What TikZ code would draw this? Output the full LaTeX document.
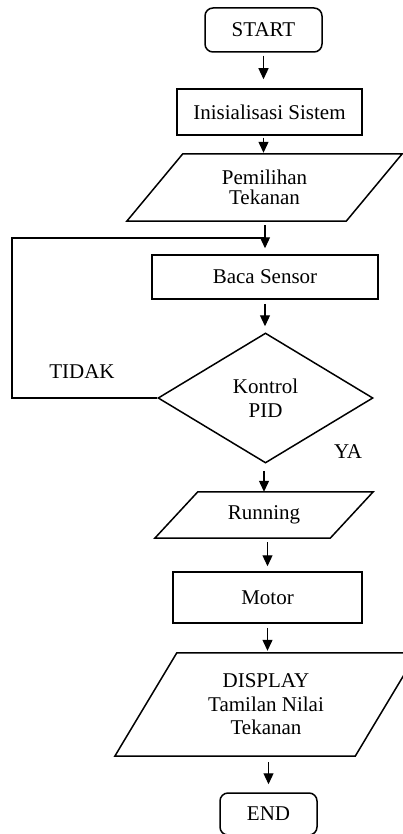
\documentclass[tikz,border=0pt]{standalone}
\usepackage{fontspec}
\setmainfont{Liberation Serif}
\usetikzlibrary{shapes.geometric,arrows.meta}
\begin{document}
\begin{tikzpicture}[x=1pt,y=-1pt,
  every node/.style={font=\fontsize{21}{23.5}\selectfont, align=center, inner sep=0pt},
  box/.style={draw, line width=1.5pt, rectangle},
  term/.style={draw, line width=1.5pt, rectangle, rounded corners=8pt},
  iobody/.style={rectangle},
  outline/.style={draw, line width=1.5pt},
  dec/.style={draw, line width=1.5pt, diamond},
  flow/.style={line width=1.2pt, -{Triangle[length=11pt,width=10pt]}},
  link/.style={line width=1.2pt}]
\useasboundingbox (0,0) rectangle (403,834);
\fill[white] (0,0) rectangle (403,834);

\node[term, minimum width=117pt, minimum height=44pt] (start) at (263.5,30) {START};
\node[box, minimum width=185pt, minimum height=46pt] (init) at (269.5,112) {Inisialisasi Sistem};
\node[iobody, minimum width=219pt, minimum height=67pt, font=\fontsize{21}{20.5}\selectfont] (pem) at (264.5,187.5) {Pemilihan\\Tekanan};
\draw[outline] ([xshift=-28pt]pem.south west) -- ([xshift=-28pt]pem.south east) -- ([xshift=28pt]pem.north east) -- ([xshift=28pt]pem.north west) -- cycle;
\node[box, minimum width=226pt, minimum height=44pt] (baca) at (265,277) {Baca Sensor};
\node[dec, minimum width=215pt, minimum height=130pt] (pid) at (265.5,398) {Kontrol\\PID};
\node[iobody, minimum width=175pt, minimum height=46pt] (run) at (264,515) {Running};
\draw[outline] ([xshift=-21.5pt]run.south west) -- ([xshift=-21.5pt]run.south east) -- ([xshift=21.5pt]run.north east) -- ([xshift=21.5pt]run.north west) -- cycle;
\node[box, minimum width=189pt, minimum height=51pt] (motor) at (267.5,597.5) {Motor};
\node[iobody, minimum width=240pt, minimum height=103pt] (disp) at (266,704.5) {DISPLAY\\Tamilan Nilai\\Tekanan};
\draw[outline] ([xshift=-31pt]disp.south west) -- ([xshift=-31pt]disp.south east) -- ([xshift=31pt]disp.north east) -- ([xshift=31pt]disp.north west) -- cycle;
\node[term, minimum width=97pt, minimum height=42pt] (end) at (268.5,814) {END};
\node (tidak) at (82,372) {TIDAK};
\node (ya) at (348,452) {YA};

\coordinate (j) at (266,238);
\coordinate (lx) at (12,238);

\draw[flow, shorten <=3pt, shorten >=9pt] (start.south) -- (start.south |- init.north);
\draw[flow, shorten <=2pt, shorten >=1pt] (init.south -| start.south) -- (start.south |- pem.north);
\draw[flow, shorten <=4pt, shorten >=6pt] (pem.south -| baca.north) -- (baca.north);
\draw[flow, shorten <=4pt, shorten >=6pt] (baca.south) -- (baca.south |- pid.north);
\draw[flow, shorten <=7pt, shorten >=0pt] (pid.south -| run.north) -- (run.north);
\draw[flow, shorten <=4pt, shorten >=5pt] (run.south -| motor.north) -- (motor.north);
\draw[flow, shorten <=4pt, shorten >=2pt] (motor.south) -- (motor.south |- disp.north);
\draw[flow, shorten <=6pt, shorten >=8pt] (disp.south -| end.north) -- (end.north);
\draw[link] (pid.west) -| (lx) -- (j);
\end{tikzpicture}
\end{document}
